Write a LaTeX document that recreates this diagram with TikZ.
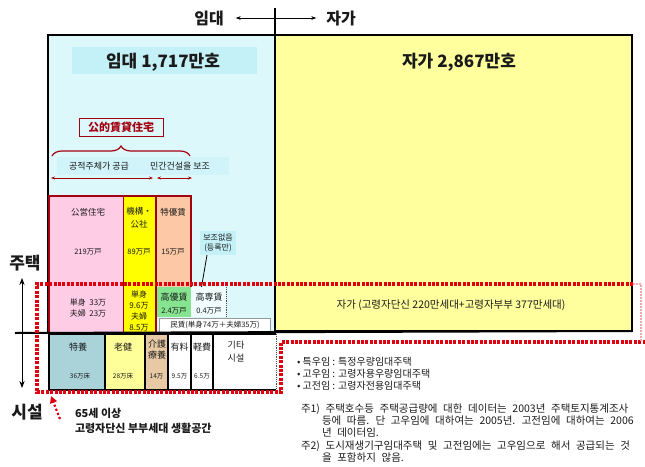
\documentclass[tikz,border=0pt]{standalone}
\usepackage{fontspec}
\setmainfont{Noto Sans CJK KR}
\newfontfamily\jpf{Noto Sans CJK JP}
\newfontfamily\notef{Noto Sans CJK KR}[WordSpace=2.4]
\usetikzlibrary{arrows.meta,decorations.pathreplacing}
\definecolor{cyanbg}{HTML}{DDF8FB}
\definecolor{cyanhl}{HTML}{C4F0F7}
\definecolor{cyanhl2}{HTML}{D0F4F9}
\definecolor{yellowbg}{HTML}{FFFF9E}
\definecolor{pinkc}{HTML}{FFCCE6}
\definecolor{yellowc}{HTML}{FFFF00}
\definecolor{salmonc}{HTML}{FCC8A6}
\definecolor{greenc}{HTML}{86E38F}
\definecolor{tealc}{HTML}{A9D3D9}
\definecolor{lyellow}{HTML}{FFFF99}
\definecolor{tanc}{HTML}{E8C9A5}
\definecolor{darkred}{HTML}{A30010}
\definecolor{dotred}{HTML}{E0000F}
\definecolor{txt}{HTML}{1A1A1A}
\newcommand{\fs}[1]{\fontsize{#1}{#1}\selectfont}
\begin{document}
\begin{tikzpicture}[x=1pt,y=-1pt,
  every node/.style={inner sep=0pt,outer sep=0pt,text=txt},
  area/.style={draw=black,line width=1.6pt,anchor=north west},
  colbox/.style={draw=none,anchor=north west},
  facbox/.style={draw=black,line width=1.2pt,anchor=north west},
  kanji/.style={font=\jpf\fs{8.5},align=center},
  num/.style={font=\jpf\fs{7.5},align=center},
  facnum/.style={font=\jpf\fs{6.5},align=center},
  reddots/.style={draw=dotred,line width=3.2pt,dash pattern=on 3pt off 1.4pt},
  note/.style={font=\fs{10},anchor=west},
  fnote/.style={font=\notef\fs{10.5},anchor=west},
  dbl/.style={{Stealth[length=5pt]}-{Stealth[length=5pt]}}]
\useasboundingbox (0,0) rectangle (645,466);

% main areas
\node[area,fill=cyanbg,minimum width=227pt,minimum height=298pt] (rent) at (48,35) {};
\node[area,fill=yellowbg,minimum width=357pt,minimum height=296pt] (own) at (275,35) {};

% top labels
\node[font=\fs{16}\bfseries] (imdae) at (209,18) {임대};
\node[font=\fs{16}\bfseries] (jaga) at (341,18) {자가};
\draw[dbl,line width=0.8pt] ([xshift=12pt]imdae.east) -- ([xshift=-10pt]jaga.west);
\coordinate (divtop) at (275,8);
\draw[line width=1.4pt] (divtop) -- (rent.north east);

% titles
\node[fill=cyanhl,minimum width=185pt,minimum height=27pt,anchor=north west] (rentband) at (72,47) {};
\node[font=\fs{17}\bfseries] (renttitle) at (163,62) {임대 1,717만호};
\node[font=\fs{17}\bfseries] (owntitle) at (459,62) {자가 2,867만호};

% public rental brace
\node[draw=darkred,line width=1pt,text=darkred,font=\jpf\fs{11}\bfseries,minimum width=84pt,minimum height=18pt] (pub) at (121,127) {公的賃貸住宅};
\coordinate (brL) at (52,156);
\coordinate (brR) at (190,156);
\draw[darkred,line width=1.2pt,decorate,decoration={brace,amplitude=10pt}] (brL) -- (brR);
\node[fill=cyanhl2,minimum width=172pt,minimum height=18pt,anchor=north west] (band2) at (57,157) {};
\node[font=\fs{9}] (pubsup) at (99,166) {공적주체가 공급};
\node[font=\fs{9}] (privsup) at (180,166) {민간건설을 보조};
\coordinate (a1l) at (51,178); \coordinate (a1r) at (153,178);
\coordinate (a2l) at (157,178); \coordinate (a2r) at (192,178);
\draw[darkred,line width=1pt,{Stealth[length=4pt]}-{Stealth[length=4pt]}] (a1l) -- (a1r);
\draw[darkred,line width=1pt,{Stealth[length=4pt]}-{Stealth[length=4pt]}] (a2l) -- (a2r);

% rental columns
\node[colbox,fill=pinkc,minimum width=74pt,minimum height=137pt] (kouei) at (49,196) {};
\node[colbox,fill=yellowc,minimum width=33pt,minimum height=137pt] (kikou) at (123,196) {};
\node[colbox,fill=salmonc,minimum width=35pt,minimum height=91pt] (tokuyu) at (156,196) {};
\node[colbox,fill=greenc,minimum width=35pt,minimum height=30pt] (kouyu) at (156,287) {};
\node[colbox,fill=white!55!cyanbg,minimum width=35pt,minimum height=30pt] (kousen) at (191,287) {};
\draw[darkred,line width=0.5pt] (kikou.north west) -- (kikou.south west);
\draw[darkred,line width=2pt] (kouei.south west) -- (kouei.north west) -- (tokuyu.north east) -- (tokuyu.south east);
\draw[darkred,line width=2pt] (kikou.north east) -- (kikou.south east);
\draw[black!70,line width=0.8pt,densely dotted] (kousen.north east) -- ([yshift=-13pt]kousen.south east);

\node[kanji] (t1) at (88,212) {公営住宅};
\node[num] (t2) at (88,252) {219万戸};
\node[num,font=\jpf\fs{8}] (t3) at (88,307.5) {単身\ \ 33万\\[3pt]夫婦\ \ 23万};
\node[kanji] (t4) at (139,218) {機構・\\[5pt]公社};
\node[num] (t5) at (139,252) {89万戸};
\node[num,font=\jpf\fs{8}] (t6) at (139,310.5) {単身\\[3pt]9.6万\\[3pt]夫婦\\[3pt]8.5万};
\node[kanji] (t7) at (173,212) {特優賃};
\node[num] (t8) at (173,252) {15万戸};
\node[kanji,font=\jpf\fs{9}] (t9) at (174,297) {高優賃};
\node[num] (t10) at (174,311) {2.4万戸};
\node[kanji,font=\jpf\fs{9}] (t11) at (209,297) {高専賃};
\node[num] (t12) at (209,311) {0.4万戸};
\node[draw=black!40,line width=0.4pt,fill=white,minimum width=111pt,minimum height=14pt,font=\jpf\fs{7.5}] (minchin) at (215,325) {民賃(単身74万＋夫婦35万)};

% callout
\node[fill=cyanhl,align=center,inner sep=3pt,font=\fs{8}] (hojo) at (218,243) {보조없음\\[2pt](등록만)};
\draw[line width=0.8pt] ([xshift=-11pt]hojo.south) -- ([xshift=-7pt]kousen.north);

% owner text
\node[font=\fs{10.5}] (ownelder) at (451,305) {자가 (고령자단신 220만세대+고령자부부 377만세대)};

% facilities
\node[facbox,fill=tealc,minimum width=56pt,minimum height=56pt] (tokuyou) at (49,334) {};
\node[facbox,fill=lyellow,minimum width=40pt,minimum height=56pt] (rouken) at (105,334) {};
\node[facbox,fill=tanc,minimum width=23pt,minimum height=56pt] (kaigo) at (145,334) {};
\node[facbox,fill=white,minimum width=23pt,minimum height=56pt] (yuryo) at (168,334) {};
\node[facbox,fill=white,minimum width=22pt,minimum height=56pt] (keihi) at (191,334) {};
\node[colbox,fill=white,minimum width=63pt,minimum height=56pt] (sonota) at (213,334) {};
\draw[line width=1.2pt] (sonota.north east) -- (sonota.north west) -- (sonota.south west) -- (sonota.south east);
\draw[black!70,line width=0.8pt,densely dotted] (sonota.north east) -- (sonota.south east);

\node[kanji,font=\jpf\fs{9}] (f1) at (78,347) {特養};
\node[facnum] (f2) at (80,376) {36万床};
\node[kanji,font=\jpf\fs{9}] (f3) at (123,347) {老健};
\node[facnum] (f4) at (123,376) {28万床};
\node[kanji,font=\jpf\fs{9}] (f5) at (157,350) {介護\\[2pt]療養};
\node[facnum] (f6) at (156.5,376) {14万};
\node[kanji,font=\jpf\fs{9}] (f7) at (179.5,347) {有料};
\node[facnum] (f8) at (179.5,376) {9.5万};
\node[kanji,font=\jpf\fs{9}] (f9) at (202,347) {軽費};
\node[facnum] (f10) at (202,376) {6.5万};
\node[font=\fs{9},align=center] (f11) at (236,352) {기타\\[4pt]시설};

% main horizontal line
\coordinate (hlL) at (15,333);
\draw[line width=2pt] (hlL) -- (own.south east);

% housing / facility arrow
\node[font=\fs{17}\bfseries] (jutaek) at (25,263) {주택};
\node[font=\fs{17}\bfseries] (siseol) at (27,412) {시설};
\coordinate (arrtop) at (22,278);
\coordinate (arrbot) at (22,388);
\draw[line width=1pt,{Stealth[length=7pt]}-{Stealth[length=7pt]}] (arrtop) -- (arrbot);

% red dotted region
\coordinate (r1) at (37,284); \coordinate (r2) at (633,284);
\coordinate (r3) at (37,392); \coordinate (r4) at (281,392);
\coordinate (r5) at (281,342); \coordinate (r6) at (645,342);
\coordinate (r7) at (641,284);
\draw[reddots] (r2) -- (r1) -- (r3) -- (r4) -- (r5) -- (r6);
\draw[draw=dotred!35,line width=1.5pt,dash pattern=on 1.5pt off 1.5pt] (r2) -- (r7) -- (r7 |- r5);

% elderly note with arrow
\coordinate (ea1) at (60,419); \coordinate (ea2) at (51,396);
\draw[dotred,line width=2.2pt,dash pattern=on 2.2pt off 2.2pt,-{Triangle[length=7pt,width=7pt]}] (ea1) -- (ea2);
\node[font=\fs{11}\bfseries,anchor=west] (age) at (75,413) {65세 이상};
\node[font=\fs{11}\bfseries,anchor=west] (space) at (75,428) {고령자단신 부부세대 생활공간};

% notes
\node[note] (n1) at (297,362) {• 특우임 : 특정우량임대주택};
\node[note] (n2) at (297,374) {• 고우임 : 고령자용우량임대주택};
\node[note] (n3) at (297,386) {• 고전임 : 고령자전용임대주택};
\node[fnote] (n4) at (301,409) {주1) 주택호수등 주택공급량에 대한 데이터는 2003년 주택토지통계조사};
\node[fnote] (n5) at (322,421) {등에 따름. 단 고우임에 대하여는 2005년. 고전임에 대하여는 2006};
\node[fnote] (n6) at (322,433) {년 데이터임.};
\node[fnote] (n7) at (301,446) {주2) 도시재생기구임대주택 및 고전임에는 고우임으로 해서 공급되는 것};
\node[fnote] (n8) at (322,458) {을 포함하지 않음.};
\end{tikzpicture}
\end{document}
